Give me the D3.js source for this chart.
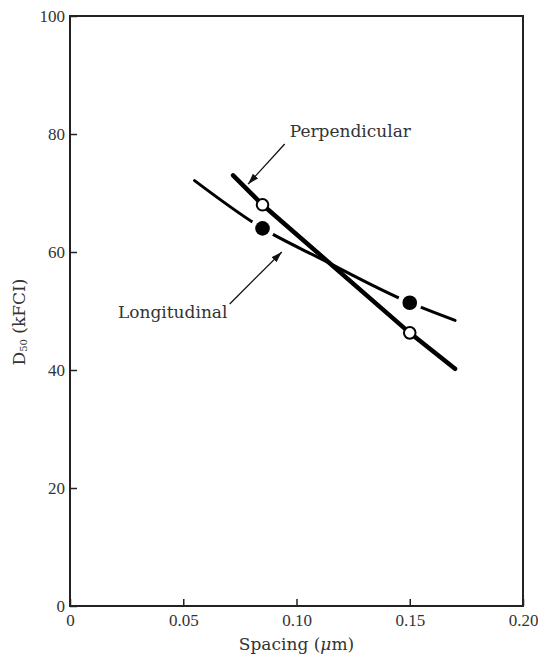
<!DOCTYPE html>
<html>
<head>
<meta charset="utf-8">
<script src="https://cdn.jsdelivr.net/npm/d3@7"></script>
<style>
body{margin:0;background:#fff;}
</style>
</head>
<body>
<div id="canvas"></div>
<script>
// values
let xTicks = [0, 0.05, 0.10, 0.15, 0.20],
yTicks = [0, 20, 40, 60, 80, 100];

// perpendicular (thick straight line, open circles)
let perpX = [0.072, 0.085, 0.15, 0.17],
perpY = [73.0, 68.0, 46.3, 40.2],
perpPtX = [0.085, 0.15],
perpPtY = [68.0, 46.3];

// longitudinal (thinner curve, filled circles)
let longX = [0.055, 0.085, 0.11, 0.15, 0.17],
longY = [72.1, 64.0, 59.0, 51.4, 48.4],
longPtX = [0.085, 0.15],
longPtY = [64.0, 51.4];

// annotation labels: text anchor point, arrow start, arrow tip (data units)
let labelText = ['Perpendicular', 'Longitudinal'],
labelX = [0.097, 0.0695],
labelY = [79.5, 48.8],
labelAnchor = ['start', 'end'],
arrowX1 = [0.0948, 0.0705],
arrowY1 = [78.3, 51.2],
arrowX2 = [0.0786, 0.0935],
arrowY2 = [71.5, 60.0];

let width = 538,
height = 656,
svg = d3.select('#canvas').append('svg').attr('width', width).attr('height', height);

let x = d3.scaleLinear().domain([0, 0.2]).range([70, 523]),
y = d3.scaleLinear().domain([0, 100]).range([606, 16]);

let numFont = 'Liberation Serif, Times New Roman, serif',
wordFont = 'DejaVu Serif, serif';

//x axis, ticks pointing inward
let xAxis = svg.append('g')
	.attr('transform', 'translate(0,' + y(0) + ')')
	.call(d3.axisBottom(x).tickValues(xTicks).tickSize(-7).tickPadding(8)
		.tickFormat(d => d === 0 ? '0' : d3.format('.2f')(d)));
xAxis.select('.domain').remove();
xAxis.selectAll('line').attr('stroke', '#222').attr('stroke-width', 1.5);
xAxis.selectAll('text').style('font-family', numFont).style('font-size', '17px').attr('fill', '#333');

//y axis
let yAxis = svg.append('g')
	.attr('transform', 'translate(' + x(0) + ',0)')
	.call(d3.axisLeft(y).tickValues(yTicks).tickSize(-7).tickPadding(5));
yAxis.select('.domain').remove();
yAxis.selectAll('line').attr('stroke', '#222').attr('stroke-width', 1.5);
yAxis.selectAll('text').style('font-family', numFont).style('font-size', '17px').attr('fill', '#333');

//frame
svg.append('rect')
	.attr('x', x(0))
	.attr('y', y(100))
	.attr('width', x(0.2) - x(0))
	.attr('height', y(0) - y(100))
	.style('fill', 'none')
	.style('stroke', '#222')
	.style('stroke-width', 2);

//axis titles
svg.append('text')
	.attr('x', (x(0) + x(0.2)) / 2)
	.attr('y', 650)
	.attr('text-anchor', 'middle')
	.style('font-family', wordFont)
	.style('font-size', '17px')
	.attr('fill', '#333')
	.html('Spacing (<tspan font-style="italic">μ</tspan>m)');

let yTitle = svg.append('text')
	.attr('transform', 'translate(25,322) rotate(-90)')
	.attr('text-anchor', 'middle')
	.style('font-family', wordFont)
	.style('font-size', '17px')
	.attr('fill', '#333');
yTitle.append('tspan').text('D');
yTitle.append('tspan').text('50').style('font-size', '10px').attr('dy', 2);
yTitle.append('tspan').text('  (kFCI)').attr('dy', -2);

//curves
let perpLine = d3.line().x(d => x(d[0])).y(d => y(d[1])),
longLine = d3.line().x(d => x(d[0])).y(d => y(d[1])).curve(d3.curveMonotoneX);

svg.append('path')
	.datum(d3.zip(longX, longY))
	.attr('d', longLine)
	.style('fill', 'none')
	.style('stroke', '#000')
	.style('stroke-width', 3)
	.style('stroke-linecap', 'round');

svg.append('path')
	.datum(d3.zip(perpX, perpY))
	.attr('d', perpLine)
	.style('fill', 'none')
	.style('stroke', '#000')
	.style('stroke-width', 4.5)
	.style('stroke-linecap', 'round');

//filled markers, with a white gap around them
let longPts = d3.zip(longPtX, longPtY);
svg.append('g').selectAll('circle').data(longPts).enter()
	.append('circle')
	.attr('cx', d => x(d[0]))
	.attr('cy', d => y(d[1]))
	.attr('r', 12)
	.style('fill', '#fff');
svg.append('g').selectAll('circle').data(longPts).enter()
	.append('circle')
	.attr('cx', d => x(d[0]))
	.attr('cy', d => y(d[1]))
	.attr('r', 7.3)
	.style('fill', '#000');

//open markers
svg.append('g').selectAll('circle').data(d3.zip(perpPtX, perpPtY)).enter()
	.append('circle')
	.attr('cx', d => x(d[0]))
	.attr('cy', d => y(d[1]))
	.attr('r', 5.8)
	.style('fill', '#fff')
	.style('stroke', '#000')
	.style('stroke-width', 2);

//arrows
svg.append('defs').append('marker')
	.attr('id', 'arrowhead')
	.attr('markerUnits', 'userSpaceOnUse')
	.attr('markerWidth', 12)
	.attr('markerHeight', 8)
	.attr('refX', 11)
	.attr('refY', 3.5)
	.attr('orient', 'auto')
	.append('path')
	.attr('d', 'M0,0 L11,3.5 L0,7 Z')
	.style('fill', '#111');

svg.append('g').selectAll('line').data(labelText).enter()
	.append('line')
	.attr('x1', (d, i) => x(arrowX1[i]))
	.attr('y1', (d, i) => y(arrowY1[i]))
	.attr('x2', (d, i) => x(arrowX2[i]))
	.attr('y2', (d, i) => y(arrowY2[i]))
	.style('stroke', '#111')
	.style('stroke-width', 1.3)
	.attr('marker-end', 'url(#arrowhead)');

svg.append('g').selectAll('text').data(labelText).enter()
	.append('text')
	.attr('x', (d, i) => x(labelX[i]))
	.attr('y', (d, i) => y(labelY[i]))
	.attr('text-anchor', (d, i) => labelAnchor[i])
	.style('font-family', wordFont)
	.style('font-size', '17px')
	.attr('fill', '#333')
	.text(d => d);
</script>
</body>
</html>
